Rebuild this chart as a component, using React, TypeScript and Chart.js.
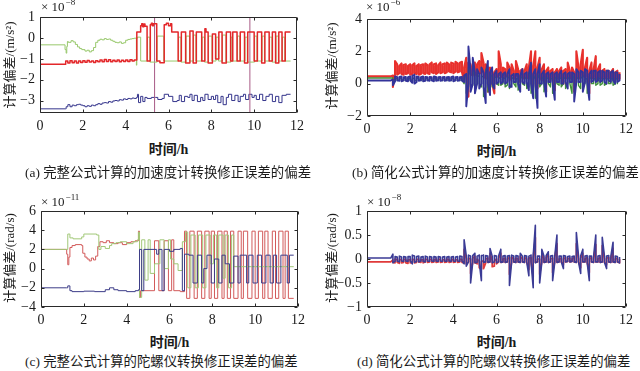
import React, { useEffect, useRef } from "react";
import { Chart, registerables } from "chart.js";
Chart.register(...registerables);

// ---------- tick labels ----------
const X_TICKS = [0, 2, 4, 6, 8, 10, 12];
const A_Y_TICKS = [1, 0, -1, -2, -3];
const B_Y_TICKS = [4, 2, 0, -2];
const C_Y_TICKS = [6, 4, 2, 0, -2, -4];
const D_Y_TICKS = [1, 0.5, 0, -0.5, -1];

// ---------- panel (a): x in h, y in 1e-8 m/s^2 (change points, held until next) ----------
const A_RED_X = [0, 1.2, 1.3, 1.4, 1.5, 1.6, 1.7, 1.8, 1.9, 2.0, 2.1, 2.2, 2.3, 2.4, 2.5, 2.6, 2.7, 2.8, 2.9, 3.0, 3.1, 3.2, 3.3, 3.4, 3.5, 3.6, 3.7, 3.8, 3.9, 4.0, 4.1, 4.2, 4.3, 4.4,
  4.52, 4.7, 4.75, 4.8, 4.85, 4.9, 5.0, 5.15, 5.2, 5.25, 5.3, 5.45, 5.6, 5.8, 5.9, 6.0, 6.1, 6.15, 6.45, 6.6, 6.8, 7.0, 7.15, 7.3, 7.55, 7.7, 7.75, 7.85, 8.05, 8.2, 8.35, 8.5, 8.7, 8.9, 9.0, 9.2, 9.35, 9.55, 9.7, 10.0, 10.15, 10.35, 10.5, 10.7, 10.85, 11.0, 11.15, 11.3, 11.45, 11.7];
const A_RED_Y = [-1.25, -1.1, -1.2, -1.08, -1.18, -1.1, -1.2, -1.1, -1.17, -1.08, -1.16, -1.07, -1.15, -1.1, -1.17, -1.08, -1.14, -1.05, -1.13, -1.02, -1.12, -1.04, -1.13, -1.06, -1.12, -1.05, -1.13, -1.06, -1.12, -1.05, -1.12, -1.04, -1.1, -1.05,
  0.3, 0.6, 0.7, 0.55, 0.68, 0.58, -1.1, 0.65, 0.72, 0.6, 0.7, -1.1, -1.18, 0.65, 0.72, 0.6, 0.7, 0.3, -1.1, 0.3, -1.2, 0.35, -1.2, 0.3, -1.1, 0.45, 0.3, -1.2, 0.2, -1.0, 0.3, -1.2, 0.3, -1.1, 0.3, -1.1, 0.3, -1.2, 0.3, -1.1, 0.3, -1.2, 0.3, -1.1, 0.3, -1.2, 0.3, -1.1, 0.3, 0.3];
const A_SPIKE_X = [5.35, 5.35, 5.36, 9.8, 9.8];
const A_SPIKE_Y = [-4, 2, null, 2, -4];
const A_GREEN_X = [0, 1.17, 1.22, 1.25, 1.28, 1.32, 1.45, 1.55, 1.65, 1.75, 1.85, 1.95, 2.1, 2.2, 2.3, 2.4, 2.5, 2.6, 2.7, 2.8, 2.9, 3.0, 3.1, 3.2, 3.3, 3.4, 3.5, 3.6, 3.7, 3.8, 3.9, 4.0, 4.1, 4.2, 4.3, 4.4,
  4.5, 4.52, 4.55, 4.7, 5.02, 5.13, 5.47, 5.78, 6.47, 6.58, 6.82, 6.98, 7.17, 7.28, 7.57, 7.68, 7.87, 8.03, 8.22, 8.33, 8.52, 8.68, 8.92, 8.98, 9.22, 9.33, 9.57, 9.68, 10.02, 10.13, 10.37, 10.48, 10.72, 10.83, 11.02, 11.13, 11.32, 11.43, 11.7];
const A_GREEN_Y = [-0.32, -0.55, -0.72, -0.4, -0.16, -0.2, -0.12, -0.18, -0.3, -0.42, -0.5, -0.55, -0.62, -0.58, -0.66, -0.6, -0.45, -0.2, -0.1, -0.05, -0.08, -0.02, -0.06, -0.04, -0.1, -0.15, -0.2, -0.22, -0.18, -0.25, -0.22, -0.1, -0.06, -0.04, -0.02, 0.0,
  -1.3, 0.0, 0.05, -1.1, 0.05, -1.15, 0.1, -1.1, 0.05, -1.15, 0.1, -1.1, 0.15, -1.1, 0.05, -1.15, 0.1, -1.1, 0.05, -1.1, 0.15, -1.15, 0.05, -1.1, 0.1, -1.1, 0.05, -1.15, 0.1, -1.1, 0.1, -1.1, 0.05, -1.15, 0.1, -1.1, 0.05, -1.1, -1.1];
const A_BLUE_X = [0, 1.2, 1.22, 1.3, 1.4, 1.5, 1.6, 1.7, 1.8, 1.9, 2.0, 2.1, 2.2, 2.3, 2.4, 2.5, 2.6, 2.7, 2.8, 2.9, 3.0, 3.1, 3.2, 3.3, 3.4, 3.5, 3.6, 3.7, 3.8, 3.9, 4.0, 4.1, 4.2, 4.3, 4.4,
  4.5, 4.55, 4.6, 4.7, 4.8, 4.9, 5.0, 5.2, 5.4, 5.5, 5.7, 5.8, 6.0, 6.2, 6.4, 6.5, 6.6, 6.75, 6.9, 7.0, 7.1, 7.2, 7.35, 7.5, 7.6, 7.7, 7.85, 8.0, 8.1, 8.2, 8.3, 8.45, 8.55, 8.7, 8.8, 8.95, 9.1, 9.25, 9.35, 9.5, 9.6, 9.75, 9.9, 10.0, 10.1, 10.25, 10.4, 10.55, 10.7, 10.85, 11.0, 11.15, 11.3, 11.5, 11.7];
const A_BLUE_Y = [-3.4, -3.4, -3.3, -3.2, -3.3, -3.22, -3.25, -3.2, -3.18, -3.22, -3.25, -3.3, -3.25, -3.28, -3.22, -3.25, -3.2, -3.15, -3.18, -3.12, -3.1, -3.12, -3.05, -3.08, -3.02, -3.0, -3.02, -2.96, -2.98, -2.92, -2.95, -2.9, -2.92, -2.88, -2.9,
  -2.85, -2.7, -3.1, -2.8, -3.05, -2.85, -2.9, -2.85, -2.85, -2.95, -2.9, -2.7, -2.8, -3.05, -3.0, -2.75, -3.05, -2.8, -2.85, -2.7, -3.0, -2.75, -3.05, -2.85, -3.0, -2.7, -2.95, -2.8, -2.95, -2.75, -3.1, -2.8, -3.2, -2.85, -2.7, -3.0, -2.75, -3.05, -2.8, -2.7, -2.95, -2.7, -2.85, -2.75, -2.95, -2.7, -3.0, -2.8, -2.7, -3.05, -2.8, -3.1, -2.75, -2.7, -2.7];

// ---------- panel (c): x in h, y in 1e-11 rad/s (change points) ----------
const C_RED_X = [0, 1.2, 1.25, 1.3, 1.35, 1.45, 1.6, 1.9, 1.95, 2.05, 2.15, 2.25, 2.35, 2.45, 2.55, 2.65, 2.75, 2.9, 3.05, 3.2, 3.4, 3.6, 3.8, 4.0, 4.2, 4.4,
  4.55, 4.6, 4.65, 5.3, 5.5, 5.75, 5.95, 6.1, 6.2, 6.5, 6.7, 6.8, 6.95, 7.15, 7.3, 7.5, 7.65, 7.85, 7.95, 8.1, 8.25, 8.45, 8.55, 8.7, 8.85, 9.0, 9.2, 9.35, 9.45, 9.65, 9.85, 10.0, 10.15, 10.35, 10.45, 10.6, 10.8, 10.95, 11.1, 11.3, 11.4, 11.55, 11.8];
const C_RED_Y = [2.0, 1.5, 0.4, 1.2, 2.2, 2.4, 2.5, 2.4, 1.6, 1.2, 1.0, 0.8, 1.1, 0.9, 1.3, 2.3, 2.8, 2.7, 2.9, 2.7, 2.6, 2.7, 2.5, 2.7, 2.8, 2.9,
  3.9, -3.0, -2.3, 2.9, -2.3, 2.9, -2.3, 3.0, -2.3, -2.4, 3.9, -3.1, 3.9, -3.1, 3.9, -3.1, 3.9, -3.1, 3.9, -3.1, 3.9, -3.1, 3.9, -3.1, 3.9, -3.1, 3.9, -3.1, 3.9, -3.1, 3.9, -3.1, 3.9, -3.1, 3.9, -3.1, 3.9, -3.1, 3.9, -3.1, 3.9, -3.1, -3.1];
const C_GREEN_X = [0, 1.2, 1.25, 1.35, 1.5, 1.9, 2.0, 2.6, 2.7, 2.8, 3.0, 3.2, 3.3, 3.5, 3.7, 4.0, 4.3, 4.5,
  4.55, 4.6, 4.7, 4.85, 5.0, 5.1, 5.3, 5.55, 5.75, 5.95, 6.05, 6.2, 6.4, 6.6, 6.75, 6.85, 7.0, 7.2, 7.35, 7.55, 7.7, 7.9, 8.05, 8.2, 8.3, 8.5, 8.6, 8.75, 8.9, 9.0, 11.8];
const C_GREEN_Y = [2.0, 2.0, 3.6, 3.2, 3.1, 3.3, 3.6, 3.5, 2.0, 2.3, 2.1, 2.4, 2.6, 2.7, 2.8, 2.6, 2.8, 3.0,
  3.8, -3.0, 3.0, -1.2, 3.0, -0.5, 0.5, 3.0, 0.0, 3.0, 1.0, 0.5, -0.2, 2.8, 3.8, -2.0, 3.5, -2.0, 3.5, -2.0, 3.5, 0.5, 3.5, -2.0, 3.5, -1.0, 3.5, -2.0, 3.5, 0.2, 0.2];
const C_BLUE_X = [0, 1.2, 1.25, 1.35, 1.45, 2.0, 2.5, 3.0, 3.2, 3.4, 3.6, 4.0, 4.4, 4.55, 4.6, 4.7, 4.8, 5.4, 5.5, 5.65, 5.75, 6.0, 6.2, 6.5, 6.6, 6.7, 6.9, 7.1, 7.3, 7.5, 7.6, 7.75, 7.95, 8.1, 8.3, 8.45, 8.6, 8.8, 9.0, 9.2, 9.3, 9.6, 9.7, 9.9, 10.1, 10.3, 10.5, 10.7, 10.85, 11.0, 11.2, 11.5, 11.6, 11.8];
const C_BLUE_Y = [-2.0, -2.0, -1.8, -2.3, -2.4, -2.35, -2.4, -2.2, -2.0, -2.2, -2.3, -2.4, -2.3, -2.2, 2.0, -2.3, 2.0, 1.5, 2.0, -2.3, 2.0, 1.8, 2.0, 2.1, -2.3, 1.5, 1.4, -1.5, 1.4, -1.5, 0.0, 1.4, -1.5, 1.0, -1.5, 1.4, 0.5, -1.5, 1.3, -1.5, 1.4, -1.5, 1.4, -1.5, 1.4, -1.5, 1.4, -1.5, 1.4, -1.5, 1.4, -1.5, 1.4, 1.4];

// ---------- panel (b): per 0.1 h bin, high / low of each series, y in 1e-6 m/s^2 ----------
const BIN_DT = 0.1;
const B_RED_HI = [0.45, 0.45, 0.45, 0.45, 0.45, 0.45, 0.45, 0.45, 0.45, 0.45, 0.45, 0.45, 0.5,
  1.4, 1.2, 1.1, 1.25, 1.15, 1.2, 1.1, 1.2, 1.15, 1.25, 1.1, 1.2, 1.15, 1.2, 1.25, 1.15, 1.2, 1.3, 1.2, 1.25, 1.15, 1.3, 1.2, 1.25, 1.3, 1.2, 1.3, 1.25, 1.35, 1.25, 1.3, 1.35,
  1.0, 1.6, 1.3, 1.2, 1.1, 1.3, 1.2, 1.4, 1.9, 1.3, 1.2, 1.0, 1.0, 0.8, 0.7, 0.9, 2.0, 1.2, 1.0, 0.9, 1.3, 1.0, 1.2, 0.8, 1.4, 0.9, 0.8, 0.9, 0.8, 1.2, 1.0, 2.0, 1.1, 2.0, 1.0,
  1.6, 0.9, 1.2, 0.8, 1.0, 0.8, 0.9, 0.7, 0.9, 0.8, 1.0, 0.8, 0.9, 1.3, 0.8, 1.0, 0.7, 2.0, 1.0, 1.2, 2.1, 1.0, 1.6, 0.8, 1.3, 0.9, 1.7, 0.9, 1.2, 0.8, 0.9, 0.8, 0.8, 0.7, 0.9, 0.7, 0.8, 0.7];
const B_RED_LO = [0.45, 0.45, 0.45, 0.45, 0.45, 0.45, 0.45, 0.45, 0.45, 0.45, 0.45, 0.45, -0.2,
  0.6, 0.55, 0.65, 0.6, 0.55, 0.6, 0.65, 0.55, 0.6, 0.65, 0.6, 0.55, 0.6, 0.65, 0.6, 0.65, 0.6, 0.7, 0.65, 0.6, 0.7, 0.65, 0.7, 0.65, 0.7, 0.75, 0.7, 0.65, 0.75, 0.7, 0.75, 0.7,
  0.2, 0.4, -0.8, 0.6, 0.5, 0.6, 0.5, 0.6, 0.7, 0.6, 0.3, -0.5, 0.4, 0.0, -0.6, 0.4, 0.5, 0.4, 0.5, 0.4, 0.5, 0.2, 0.5, 0.3, 0.5, 0.4, 0.1, 0.4, 0.3, 0.4, 0.3, 0.5, -0.2, 0.4, -0.3,
  0.4, 0.2, 0.4, -0.5, 0.4, 0.2, 0.4, -0.4, 0.4, 0.3, 0.4, 0.0, 0.4, 0.3, 0.4, 0.3, -0.5, 0.4, 0.3, 0.4, 0.5, 0.4, 0.5, -0.6, 0.4, 0.3, 0.4, 0.2, 0.4, 0.3, 0.4, 0.3, 0.4, 0.3, 0.4, 0.2, 0.3, 0.3];
const B_GREEN_HI = [0.35, 0.35, 0.35, 0.35, 0.35, 0.35, 0.35, 0.35, 0.35, 0.35, 0.35, 0.35, 0.35,
  0.35, 0.33, 0.35, 0.32, 0.35, 0.33, 0.35, 0.32, 0.35, 0.33, 0.35, 0.32, 0.35, 0.33, 0.35, 0.32, 0.35, 0.33, 0.35, 0.32, 0.35, 0.33, 0.35, 0.32, 0.35, 0.33, 0.35, 0.32, 0.35, 0.33, 0.35, 0.32,
  0.4, 0.5, 1.0, 0.6, 0.8, 0.5, 0.6, 0.4, 0.5, 0.4, 0.9, 0.4, 0.6, 0.4, 0.4, 0.4, 0.4, 0.3, 0.4, 0.3, 0.5, 0.3, 0.4, 0.3, 0.3, 0.3, 0.5, 0.3, 0.4, 0.3, 0.7, 0.3, 0.5, 0.3, 0.6,
  0.3, 0.4, 0.3, 0.4, 0.3, 0.3, 0.3, 0.4, 0.3, 0.4, 0.3, 0.4, 0.3, 0.4, 0.3, 0.3, 0.5, 0.3, 0.4, 0.3, 0.5, 0.3, 0.3, 0.4, 0.3, 0.3, 0.3, 0.4, 0.3, 0.3, 0.3, 0.3, 0.3, 0.3, 0.3, 0.3, 0.3, 0.3];
const B_GREEN_LO = [0.35, 0.35, 0.35, 0.35, 0.35, 0.35, 0.35, 0.35, 0.35, 0.35, 0.35, 0.35, 0.0,
  0.2, 0.22, 0.2, 0.24, 0.2, 0.22, 0.2, 0.24, 0.2, 0.22, 0.2, 0.24, 0.2, 0.22, 0.2, 0.24, 0.2, 0.22, 0.2, 0.24, 0.2, 0.22, 0.2, 0.24, 0.2, 0.22, 0.2, 0.24, 0.2, 0.22, 0.2, 0.24,
  0.0, -0.6, -0.2, -0.3, -0.1, -0.4, 0.0, 0.0, -0.2, -0.8, -0.2, -0.5, 0.0, -0.2, 0.0, 0.0, -0.1, -0.1, 0.0, -0.2, -0.1, -0.3, 0.0, 0.0, -0.2, -0.4, 0.0, 0.0, -0.1, -0.3, -0.2, -0.6, 0.0, -0.9, -0.1,
  -0.2, 0.0, -0.5, 0.0, 0.0, -0.2, -0.6, 0.0, 0.0, -0.1, -0.2, 0.0, -0.3, 0.0, 0.0, -0.6, 0.0, 0.0, -0.1, -0.3, 0.0, 0.0, -0.6, 0.0, 0.0, 0.0, -0.1, 0.0, -0.1, 0.0, -0.1, 0.0, 0.0, 0.0, -0.1, 0.0, 0.0];
const B_BLUE_HI = [0.2, 0.2, 0.2, 0.2, 0.2, 0.2, 0.2, 0.2, 0.2, 0.2, 0.2, 0.2, 0.25,
  0.45, 0.4, 0.42, 0.45, 0.4, 0.42, 0.4, 0.45, 0.5, 0.55, 0.45, 0.42, 0.4, 0.45, 0.42, 0.4, 0.42, 0.4, 0.45, 0.42, 0.4, 0.42, 0.4, 0.42, 0.4, 0.42, 0.4, 0.45, 0.4, 0.42, 0.4, 0.42,
  0.5, 0.6, 2.3, 0.8, 1.6, 0.7, 0.9, 0.6, 1.0, 0.7, 0.6, 1.4, 0.7, 1.0, 0.6, 0.8, 0.6, 0.7, 0.6, 0.7, 0.6, 0.9, 0.5, 0.6, 0.6, 0.6, 0.5, 0.9, 0.6, 0.7, 0.6, 1.3, 0.6, 0.9, 0.6,
  1.2, 0.6, 0.8, 0.6, 0.7, 0.6, 0.7, 0.6, 0.7, 0.6, 0.8, 0.6, 0.7, 0.6, 0.7, 0.7, 0.6, 0.9, 0.7, 0.8, 0.7, 0.9, 0.8, 0.6, 0.8, 0.8, 0.8, 0.7, 0.8, 0.8, 0.7, 0.8, 0.8, 0.7, 0.8, 0.7, 0.7, 0.6];
const B_BLUE_LO = [0.2, 0.2, 0.2, 0.2, 0.2, 0.2, 0.2, 0.2, 0.2, 0.2, 0.2, 0.2, -0.1,
  0.15, 0.2, 0.18, 0.15, 0.2, 0.18, 0.15, 0.2, 0.05, 0.0, 0.1, 0.18, 0.2, 0.15, 0.18, 0.2, 0.18, 0.2, 0.15, 0.18, 0.2, 0.18, 0.2, 0.18, 0.2, 0.18, 0.2, 0.15, 0.2, 0.18, 0.2, 0.18,
  0.1, -1.4, 0.0, -0.5, 0.0, -0.6, 0.0, -0.3, 0.0, -0.2, -1.2, 0.0, -0.7, 0.0, -0.3, 0.0, 0.1, 0.0, 0.1, 0.0, 0.1, -0.2, -0.2, 0.1, 0.1, 0.0, -0.5, 0.1, 0.0, 0.1, -0.4, 0.0, -0.9, 0.0, -1.5,
  0.0, 0.0, 0.1, -0.8, 0.1, 0.1, 0.0, -1.0, 0.1, 0.1, 0.0, 0.0, 0.1, -0.3, 0.1, 0.1, -1.1, 0.1, 0.1, 0.1, -0.5, 0.1, 0.1, -1.0, 0.1, 0.2, 0.1, 0.2, 0.1, 0.2, 0.1, 0.0, 0.2, 0.1, 0.2, 0.0, 0.1, 0.2];

// ---------- panel (d): per 0.1 h bin, high / low, y in 1e-8 rad/s ----------
const D_RED_HI = [-0.06, -0.06, -0.06, -0.06, -0.06, -0.06, -0.06, -0.06, -0.06, -0.06, -0.06, -0.06,
  -0.02, 0.0, -0.01, 0.0, -0.02, 0.0, -0.01, -0.02,
  -0.01, 0.0, -0.02, -0.01, 0.0, -0.01, -0.02, 0.0, -0.01, 0.0,
  -0.01, -0.02, 0.0, -0.01, 0.0, -0.02, -0.01, 0.0, -0.01, -0.02,
  0.0, -0.01, -0.02, 0.0, -0.01,
  0.2, 0.0, 0.02, 0.0, 0.02,
  0.06, 0.0, -0.05, -0.05, -0.04, 0.0, 0.02, 0.12, -0.03, -0.04,
  0.0, 0.02, 0.12, 0.0, 0.02, 0.0, 0.03, 0.04, 0.0, 0.02,
  0.0, 0.06, 0.0, 0.03, 0.0, 0.02, 0.03, 0.02, 0.45, 0.0,
  0.0, 0.12, 0.0, 0.03, 0.1, 0.0, 0.02, 0.03, 0.32, 0.0,
  0.02, 0.0, 0.03, 0.0, 0.02, 0.0, 0.03, 0.32, 0.0, 0.02,
  0.12, 0.0, 0.03, 0.0, 0.03, 0.0, 0.3, 0.0, 0.03, 0.28,
  0.0, 0.02, 0.03, 0.0, 0.22, 0.0, 0.02, 0.0];
const D_RED_LO = [-0.06, -0.06, -0.06, -0.06, -0.06, -0.06, -0.06, -0.06, -0.06, -0.06, -0.06, -0.06,
  -0.07, -0.08, -0.07, -0.09, -0.08, -0.07, -0.08, -0.09,
  -0.08, -0.07, -0.08, -0.07, -0.06, -0.07, -0.08, -0.06, -0.07, -0.06,
  -0.07, -0.06, -0.07, -0.06, -0.07, -0.06, -0.07, -0.06, -0.07, -0.06,
  -0.07, -0.06, -0.07, -0.06, -0.07,
  -0.08, -0.1, -0.06, -0.3, -0.07,
  -0.08, -0.1, -0.18, -0.22, -0.2, -0.08, -0.07, -0.06, -0.16, -0.15,
  -0.1, -0.06, -0.07, -0.06, -0.07, -0.06, -0.32, -0.07, -0.06, -0.07,
  -0.06, -0.07, -0.06, -0.07, -0.06, -0.22, -0.06, -0.38, -0.07, -0.06,
  -0.32, -0.06, -0.07, -0.06, -0.07, -0.06, -0.28, -0.06, -0.07, -0.06,
  -0.06, -0.12, -0.06, -0.05, -0.06, -0.05, -0.06, -0.07, -0.06, -0.18,
  -0.06, -0.06, -0.07, -0.28, -0.06, -0.07, -0.06, -0.06, -0.07, -0.06,
  -0.07, -0.12, -0.06, -0.07, -0.06, -0.07, -0.06, -0.08];
const D_BLUE_HI = [0.02, 0.02, 0.02, 0.02, 0.02, 0.02, 0.02, 0.02, 0.02, 0.02, 0.02, 0.02,
  0.1, 0.05, 0.04, 0.06, 0.04, 0.05, 0.04, 0.05,
  0.05, 0.08, 0.06, 0.05, 0.06, 0.04, 0.05, 0.06, 0.04, 0.05,
  0.04, 0.05, 0.04, 0.05, 0.04, 0.04, 0.05, 0.04, 0.05, 0.04,
  0.05, 0.04, 0.05, 0.06, 0.05,
  0.4, 0.06, 0.08, 0.06, 0.07,
  0.12, 0.06, 0.08, 0.07, 0.08, 0.07, 0.06, 0.22, 0.06, 0.07,
  0.06, 0.07, 0.2, 0.06, 0.07, 0.06, 0.07, 0.08, 0.06, 0.07,
  0.06, 0.12, 0.06, 0.07, 0.06, 0.06, 0.08, 0.06, 0.7, 0.06,
  0.06, 0.2, 0.06, 0.07, 0.15, 0.06, 0.07, 0.06, 0.5, 0.06,
  0.06, 0.07, 0.06, 0.05, 0.06, 0.05, 0.06, 0.55, 0.06, 0.07,
  0.2, 0.06, 0.07, 0.06, 0.06, 0.06, 0.5, 0.06, 0.07, 0.45,
  0.06, 0.06, 0.07, 0.06, 0.35, 0.06, 0.05, 0.04];
const D_BLUE_LO = [0.02, 0.02, 0.02, 0.02, 0.02, 0.02, 0.02, 0.02, 0.02, 0.02, 0.02, 0.02,
  -0.08, -0.05, -0.04, -0.06, -0.04, -0.05, -0.04, -0.05,
  -0.04, -0.1, -0.07, -0.05, -0.06, -0.04, -0.05, -0.06, -0.04, -0.05,
  -0.04, -0.05, -0.04, -0.05, -0.04, -0.05, -0.04, -0.05, -0.04, -0.05,
  -0.04, -0.05, -0.04, -0.05, -0.04,
  -0.1, -0.15, -0.06, -0.5, -0.06,
  -0.08, -0.07, -0.06, -0.45, -0.07, -0.06, -0.07, -0.06, -0.08, -0.06,
  -0.08, -0.06, -0.07, -0.06, -0.07, -0.06, -0.55, -0.07, -0.06, -0.07,
  -0.06, -0.07, -0.06, -0.07, -0.06, -0.35, -0.06, -0.6, -0.08, -0.06,
  -0.5, -0.06, -0.07, -0.06, -0.07, -0.06, -0.45, -0.06, -0.07, -0.06,
  -0.06, -0.2, -0.06, -0.05, -0.06, -0.05, -0.06, -0.07, -0.06, -0.3,
  -0.06, -0.06, -0.07, -0.45, -0.06, -0.07, -0.06, -0.06, -0.07, -0.06,
  -0.07, -0.2, -0.06, -0.07, -0.06, -0.07, -0.06, -0.08];

// ---------- helpers ----------
const pairs = (xs: number[], ys: (number | null)[]) => ys.map((y, i) => ({ x: xs[i], y }));
// each bin drawn as a vertical stroke between its low and high value (min/max style)
const envelope = (hi: number[], lo: number[]) => {
  const pts: { x: number; y: number }[] = [];
  const n = Math.min(hi.length, lo.length);
  for (let i = 0; i < n; i++) {
    const x = +(i * BIN_DT).toFixed(2);
    if (i % 2 === 0) { pts.push({ x, y: hi[i] }, { x, y: lo[i] }); }
    else { pts.push({ x, y: lo[i] }, { x, y: hi[i] }); }
  }
  return pts;
};

const boxPlugin = {
  id: "matlabBox",
  afterDatasetsDraw(chart: any) {
    const { ctx, chartArea, scales } = chart;
    const l = Math.round(chartArea.left) + 0.5;
    const r = Math.round(chartArea.right) - 0.5;
    const t = Math.round(chartArea.top) + 0.5;
    const b = Math.round(chartArea.bottom) - 0.5;
    ctx.save();
    ctx.strokeStyle = "#2a2a2a";
    ctx.lineWidth = 1;
    ctx.beginPath();
    ctx.rect(l, t, r - l, b - t);
    const len = 3;
    scales.x.ticks.forEach((tk: any) => {
      const px = Math.round(scales.x.getPixelForValue(tk.value)) + 0.5;
      ctx.moveTo(px, b); ctx.lineTo(px, b - len);
      ctx.moveTo(px, t); ctx.lineTo(px, t + len);
    });
    scales.y.ticks.forEach((tk: any) => {
      const py = Math.round(scales.y.getPixelForValue(tk.value)) + 0.5;
      ctx.moveTo(l, py); ctx.lineTo(l + len, py);
      ctx.moveTo(r, py); ctx.lineTo(r - len, py);
    });
    ctx.stroke();
    ctx.restore();
  },
};

const TICK_FONT = { family: "'Liberation Serif', 'DejaVu Serif', serif", size: 14 };
const fmt = (v: any) => String(v).replace("-", "\u2212");

type PanelProps = {
  left: number; top: number; width: number; height: number;
  padTop: number; padRight: number; yw: number; xh: number;
  yMin: number; yMax: number; yTicks: number[];
  datasets: any[]; stepped: boolean;
};

function Panel(p: PanelProps) {
  const ref = useRef<HTMLCanvasElement | null>(null);
  useEffect(() => {
    if (!ref.current) return;
    const chart = new Chart(ref.current, {
      type: "line",
      data: {
        datasets: p.datasets.map((d) => ({
          data: d.data,
          borderColor: d.color,
          borderWidth: d.width ?? 1,
          borderJoinStyle: "round",
          pointRadius: 0,
          fill: false,
          tension: 0,
          spanGaps: false,
          stepped: p.stepped,
          order: d.order,
        })),
      },
      options: {
        animation: false,
        responsive: false,
        devicePixelRatio: 1,
        events: [],
        layout: { padding: { top: p.padTop, right: p.padRight, left: 0, bottom: 0 } },
        plugins: { legend: { display: false }, tooltip: { enabled: false }, title: { display: false } },
        scales: {
          x: {
            type: "linear",
            min: 0,
            max: 12,
            grid: { display: false, drawTicks: false },
            border: { display: false },
            afterBuildTicks: (s: any) => { s.ticks = X_TICKS.map((v) => ({ value: v })); },
            afterFit: (s: any) => { s.height = p.xh; },
            ticks: { font: TICK_FONT, color: "#1a1a1a", padding: 5, maxRotation: 0, autoSkip: false, callback: fmt },
          },
          y: {
            type: "linear",
            min: p.yMin,
            max: p.yMax,
            grid: { display: false, drawTicks: false },
            border: { display: false },
            afterBuildTicks: (s: any) => { s.ticks = p.yTicks.map((v) => ({ value: v })); },
            afterFit: (s: any) => { s.width = p.yw; },
            ticks: { font: TICK_FONT, color: "#1a1a1a", padding: 5, autoSkip: false, callback: fmt },
          },
        },
      },
      plugins: [boxPlugin],
    } as any);
    return () => chart.destroy();
  }, []);
  return (
    <canvas
      ref={ref}
      width={p.width}
      height={p.height}
      style={{ position: "absolute", left: p.left, top: p.top, width: p.width, height: p.height }}
    />
  );
}

const CJK = "'Liberation Serif', 'Noto Sans CJK SC', serif";
const textColor = "#1a1a1a";

function Exp({ x, y, e }: { x: number; y: number; e: string }) {
  return (
    <div style={{ position: "absolute", left: x, top: y - 7, font: "13px 'Liberation Serif', serif", color: textColor, whiteSpace: "nowrap", lineHeight: "14px" }}>
      × 10<span style={{ fontSize: 9, position: "relative", top: -6, marginLeft: 1 }}>{e}</span>
    </div>
  );
}

function CText({ x, y, text, size = 13, weight = 400, rotate = false }: { x: number; y: number; text: string; size?: number; weight?: number; rotate?: boolean }) {
  return (
    <div style={{
      position: "absolute", left: x, top: y, whiteSpace: "nowrap", fontFamily: CJK, fontSize: size, fontWeight: weight,
      color: textColor, lineHeight: 1, transform: `translate(-50%, -50%)${rotate ? " rotate(-90deg)" : ""}`,
    }}>{text}</div>
  );
}

function Caption({ x, y, text }: { x: number; y: number; text: string }) {
  return (
    <div style={{ position: "absolute", left: x, top: y - 7, whiteSpace: "nowrap", fontFamily: CJK, fontSize: 13.4, color: textColor, lineHeight: "14px" }}>{text}</div>
  );
}

export default function App() {
  const RED = "#e3272a";
  const GREEN = "#98c86c";
  const BLUE = "#35358c";
  return (
    <div style={{ position: "fixed", left: 0, top: 0, width: 640, height: 371, background: "#ffffff", overflow: "hidden" }}>
      <Panel left={10} top={4} width={302} height={131} padTop={13} padRight={15} yw={30} xh={22}
        yMin={-3.6} yMax={1} yTicks={A_Y_TICKS} stepped={true}
        datasets={[
          { data: pairs(A_BLUE_X, A_BLUE_Y), color: BLUE, order: 3 },
          { data: pairs(A_SPIKE_X, A_SPIKE_Y), color: "#a85a86", order: 2 },
          { data: pairs(A_GREEN_X, A_GREEN_Y), color: GREEN, order: 1 },
          { data: pairs(A_RED_X, A_RED_Y), color: RED, order: 0, width: 1.5 },
        ]} />
      <Panel left={337} top={4} width={303} height={134} padTop={15} padRight={14} yw={30} xh={22}
        yMin={-2} yMax={4} yTicks={B_Y_TICKS} stepped={false}
        datasets={[
          { data: envelope(B_RED_HI, B_RED_LO), color: "#e8302c", order: 2, width: 2.1 },
          { data: envelope(B_GREEN_HI, B_GREEN_LO), color: "#3f8f3a", order: 1, width: 1.4 },
          { data: envelope(B_BLUE_HI, B_BLUE_LO), color: "#33339a", order: 0, width: 1.9 },
        ]} />
      <Panel left={11} top={196} width={302} height={133} padTop={15} padRight={15} yw={30} xh={22}
        yMin={-4} yMax={6} yTicks={C_Y_TICKS} stepped={true}
        datasets={[
          { data: pairs(C_RED_X, C_RED_Y), color: "#d25a5a", order: 2 },
          { data: pairs(C_GREEN_X, C_GREEN_Y), color: "#a2c878", order: 1 },
          { data: pairs(C_BLUE_X, C_BLUE_Y), color: "#3c3c88", order: 0 },
        ]} />
      <Panel left={337} top={196} width={303} height={133} padTop={15} padRight={14} yw={30} xh={22}
        yMin={-1} yMax={1} yTicks={D_Y_TICKS} stepped={false}
        datasets={[
          { data: envelope(D_RED_HI, D_RED_LO), color: "#e03a3a", order: 1, width: 1.7 },
          { data: envelope(D_BLUE_HI, D_BLUE_LO), color: "#3b3b95", order: 0, width: 1.6 },
        ]} />

      <Exp x={41} y={7} e="−8" />
      <Exp x={366} y={7} e="−6" />
      <Exp x={41} y={202} e="−11" />
      <Exp x={367} y={202} e="−8" />

      <CText x={9} y={65} text="计算偏差/(m/s²)" rotate />
      <CText x={331} y={66} text="计算偏差/(m/s²)" rotate />
      <CText x={9} y={258} text="计算偏差/(rad/s)" rotate />
      <CText x={331} y={258} text="计算偏差/(rad/s)" rotate />

      <CText x={168.5} y={150} text="时间/h" size={14} weight={600} />
      <CText x={496.5} y={152} text="时间/h" size={14} weight={600} />
      <CText x={169.5} y={343} text="时间/h" size={14} weight={600} />
      <CText x={496.5} y={343} text="时间/h" size={14} weight={600} />

      <Caption x={25} y={173} text="(a) 完整公式计算的加速度计转换修正误差的偏差" />
      <Caption x={352} y={173} text="(b) 简化公式计算的加速度计转换修正误差的偏差" />
      <Caption x={25} y={362} text="(c) 完整公式计算的陀螺仪转换修正误差的偏差" />
      <Caption x={357} y={362} text="(d) 简化公式计算的陀螺仪转换修正误差的偏差" />
    </div>
  );
}
